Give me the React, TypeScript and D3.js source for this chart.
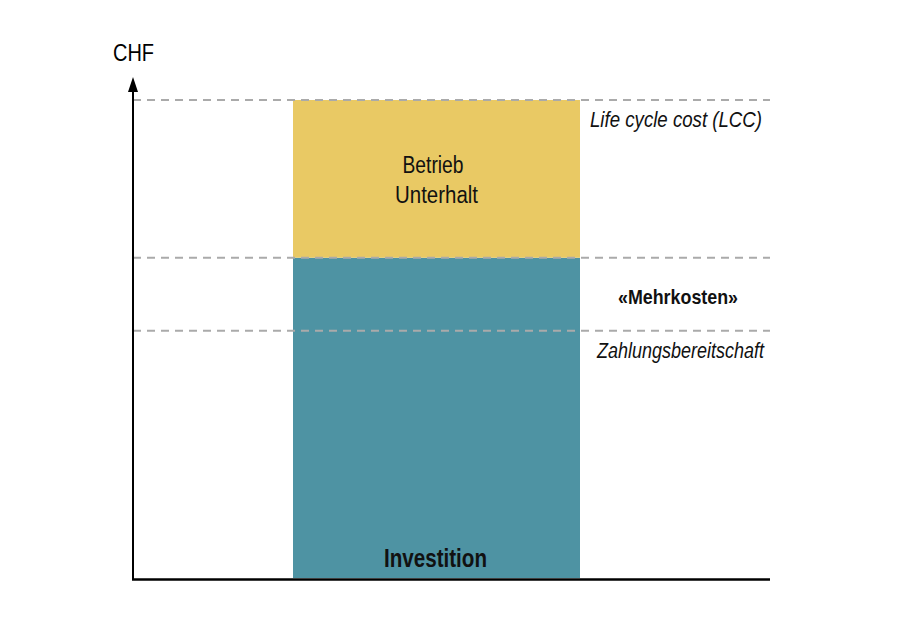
import React from "react";
import * as d3 from "d3";

// Data (relative CHF units, LCC = 100)
const segments = ["Investition", "Betrieb Unterhalt"];
const segmentValues = [67, 33];
const segmentColors = ["#4E93A3", "#E9C964"];
const refLevels = [100, 67, 51.7]; // LCC, top of investment, Zahlungsbereitschaft
const category = ["Kosten"];

const W = 906;
const H = 636;
const FONT = "'Liberation Sans', Arial, sans-serif";

export default function App() {
  const x0 = 133;
  const x1 = 770;
  const y = d3.scaleLinear().domain([0, 100]).range([578, 100]);
  const xb = d3.scaleBand().domain(category).range([293, 580]).padding(0);

  let acc = 0;
  const stacks = segmentValues.map((v, i) => {
    const s = { name: segments[i], y0: acc, y1: acc + v, color: segmentColors[i] };
    acc += v;
    return s;
  });
  const bx = xb(category[0]) as number;
  const bw = xb.bandwidth();
  const adj = "spacingAndGlyphs";

  return (
    <svg width={W} height={H} style={{ position: "absolute", left: 0, top: 0, background: "#fff" }} fontFamily={FONT}>
      {stacks.map((s) => (
        <rect key={s.name} x={bx} width={bw} y={y(s.y1)} height={y(s.y0) - y(s.y1)} fill={s.color} />
      ))}
      {refLevels.map((l, i) => (
        <line key={i} x1={x0} x2={x1} y1={y(l)} y2={y(l)} stroke="#AAAAAA" strokeWidth={2} strokeDasharray="8,6" />
      ))}
      {/* axes */}
      <line x1={x0} x2={x0} y1={88} y2={580} stroke="#000" strokeWidth={2} />
      <path d={`M${x0 - 5},${92} L${x0},${77} L${x0 + 5},${92} Z`} fill="#000" />
      <line x1={x0 - 1} x2={x1} y1={579.5} y2={579.5} stroke="#000" strokeWidth={2.5} />
      <text x={113} y={61} fontSize={24} fill="#000" textLength={41} lengthAdjust={adj}>CHF</text>

      {/* bar labels */}
      <text x={433} y={173} fontSize={23.5} textAnchor="middle" fill="#111" textLength={61} lengthAdjust={adj}>Betrieb</text>
      <text x={436.5} y={203} fontSize={23.5} textAnchor="middle" fill="#111" textLength={83} lengthAdjust={adj}>Unterhalt</text>
      <text x={435.5} y={567} fontSize={25} fontWeight="bold" textAnchor="middle" fill="#111" textLength={103} lengthAdjust={adj}>Investition</text>

      {/* right annotations */}
      <text x={590} y={127} fontSize={22} fontStyle="italic" fill="#111" textLength={172} lengthAdjust={adj}>Life cycle cost (LCC)</text>
      <text x={618} y={304} fontSize={21} fontWeight="bold" fill="#111" textLength={120} lengthAdjust={adj}>«Mehrkosten»</text>
      <text x={597} y={358} fontSize={22} fontStyle="italic" fill="#111" textLength={167} lengthAdjust={adj}>Zahlungsbereitschaft</text>
    </svg>
  );
}
